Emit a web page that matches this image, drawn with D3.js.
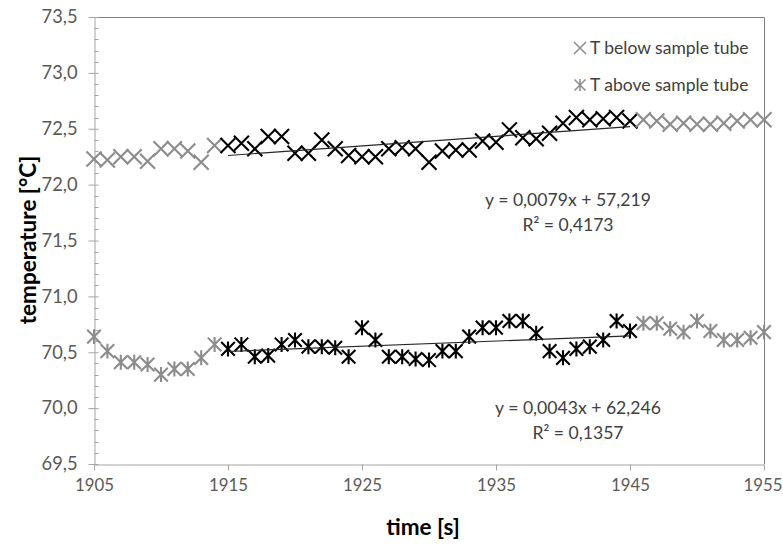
<!DOCTYPE html>
<html>
<head>
<meta charset="utf-8">
<script src="https://cdn.jsdelivr.net/npm/d3@7"></script>
<style>
  html, body { margin: 0; padding: 0; background: #fff; }
  svg { display: block; }
  text { font-family: Lato, "Open Sans", sans-serif; }
</style>
</head>
<body>
<svg id="chart" width="783" height="547"></svg>
<script>
// Time stamps, one reading per second
const times = d3.range(1905, 1956);

// Temperature below the sample tube [°C]
const tBelow = [
  72.23, 72.22, 72.25, 72.25, 72.21, 72.32, 72.32, 72.30, 72.20, 72.35,
  72.35, 72.37, 72.32, 72.43, 72.43, 72.28, 72.28, 72.40, 72.32, 72.26,
  72.25, 72.25, 72.32, 72.33, 72.32, 72.20, 72.30, 72.31, 72.31, 72.39,
  72.38, 72.49, 72.42, 72.41, 72.46, 72.55, 72.60, 72.58, 72.59, 72.60,
  72.57, 72.58, 72.57, 72.54, 72.55, 72.54, 72.54, 72.55, 72.57, 72.58,
  72.58
];

// Temperature above the sample tube [°C]
const tAbove = [
  70.64, 70.51, 70.41, 70.41, 70.39, 70.30, 70.35, 70.35, 70.45, 70.57,
  70.53, 70.57, 70.46, 70.47, 70.57, 70.61, 70.55, 70.55, 70.54, 70.46,
  70.72, 70.61, 70.46, 70.46, 70.44, 70.43, 70.51, 70.51, 70.64, 70.72,
  70.72, 70.78, 70.78, 70.67, 70.51, 70.45, 70.53, 70.55, 70.61, 70.78,
  70.69, 70.76, 70.76, 70.71, 70.68, 70.78, 70.69, 70.61, 70.61, 70.63,
  70.68
];

// Window used for the linear fits (highlighted in black)
const fitWindow = [1915, 1945];

// Axis ticks
const xTicks = [1905, 1915, 1925, 1935, 1945, 1955];
const yTicks = [69.5, 70.0, 70.5, 71.0, 71.5, 72.0, 72.5, 73.0, 73.5];
const yMinorTicks = d3.range(695, 736).map(v => v / 10);

// Legend and trend-line labels
const seriesNames = ["T below sample tube", "T above sample tube"];
const fitLabels = [
  ["y = 0,0079x + 57,219", "R\u00B2 = 0,4173"],
  ["y = 0,0043x + 62,246", "R\u00B2 = 0,1357"]
];

const svg = d3.select("#chart");
const plot = { left: 94, right: 764, top: 17, bottom: 464 };

const x = d3.scaleLinear().domain([1905, 1955]).range([plot.left, plot.right]);
const y = d3.scaleLinear().domain([69.5, 73.5]).range([plot.bottom, plot.top]);

const comma = v => d3.format(".1f")(v).replace(".", ",");
const axisGrey = "#a6a6a6";
const labelGrey = "#595959";

// Plot-area frame (top and right edges)
svg.append("path")
  .attr("d", `M${plot.left},${plot.top + 0.5}H${plot.right + 0.5}V${plot.bottom}`)
  .attr("fill", "none").attr("stroke", "#7f7f7f").attr("stroke-width", 1);

// Y axis with inner minor ticks
const yAxis = svg.append("g").attr("transform", `translate(${plot.left + 0.5},0)`);
yAxis.append("g")
  .call(d3.axisLeft(y).tickValues(yTicks).tickSize(6).tickSizeOuter(0).tickFormat(comma).tickPadding(11))
  .call(g => g.select(".domain").attr("stroke", axisGrey))
  .call(g => g.selectAll(".tick line").attr("stroke", axisGrey).attr("x2", -6).attr("x1", 4))
  .call(g => g.selectAll(".tick text").attr("fill", labelGrey).style("font-size", "18.3px").style("font-family", "Lato"));
yAxis.selectAll(".minor").data(yMinorTicks.filter(v => Math.round(v * 10) % 5 !== 0))
  .join("line").attr("class", "minor")
  .attr("x1", 0).attr("x2", 4)
  .attr("y1", d => Math.round(y(d)) + 0.5).attr("y2", d => Math.round(y(d)) + 0.5)
  .attr("stroke", axisGrey);

// X axis
svg.append("g").attr("transform", `translate(0,${plot.bottom + 0.5})`)
  .call(d3.axisBottom(x).tickValues(xTicks).tickSize(6).tickSizeOuter(0).tickFormat(d3.format("d")).tickPadding(9))
  .call(g => g.select(".domain").attr("stroke", axisGrey))
  .call(g => g.selectAll(".tick line").attr("stroke", axisGrey))
  .call(g => g.selectAll(".tick text").attr("fill", labelGrey).style("font-size", "16.8px").style("font-family", "Lato"))
  .call(g => g.selectAll(".tick text").filter(d => d === 1955).attr("text-anchor", "end").attr("x", 782 - plot.right));

// Axis titles
svg.append("text")
  .attr("transform", `translate(36,240) rotate(-90)`)
  .attr("text-anchor", "middle")
  .style("font-size", "22.5px").style("font-weight", "bold").attr("fill", "#000")
  .text("temperature [\u00B0C]");
svg.append("text")
  .attr("x", 423).attr("y", 535)
  .attr("text-anchor", "middle")
  .style("font-size", "22.5px").style("font-weight", "bold").attr("fill", "#000")
  .text("time [s]");

// Marker shapes
const crossPath = r => `M${-r},${-r}L${r},${r}M${-r},${r}L${r},${-r}`;
const starPath = r => `${crossPath(r)}M0,${-r * 1.1}L0,${r * 1.1}`;
const inFit = t => t >= fitWindow[0] && t <= fitWindow[1];

// Least-squares line through the points inside the fit window
function fitLine(vals) {
  const pts = times.map((t, i) => [t, vals[i]]).filter(p => inFit(p[0]));
  const mx = d3.mean(pts, p => p[0]), my = d3.mean(pts, p => p[1]);
  const sxy = d3.sum(pts, p => (p[0] - mx) * (p[1] - my));
  const sxx = d3.sum(pts, p => (p[0] - mx) ** 2);
  const b = sxy / sxx, a = my - b * mx;
  return fitWindow.map(t => [t, a + b * t]);
}

const series = [
  { vals: tBelow, shape: crossPath(7.5) },
  { vals: tAbove, shape: starPath(6.8) }
];

const line = d3.line().x(d => x(d[0])).y(d => y(d[1]));

series.forEach(s => {
  const g = svg.append("g");
  g.selectAll("path.m").data(times.map((t, i) => [t, s.vals[i]]))
    .join("path").attr("class", "m")
    .attr("transform", d => `translate(${x(d[0])},${y(d[1])})`)
    .attr("d", s.shape)
    .attr("fill", "none")
    .attr("stroke", d => inFit(d[0]) ? "#000" : "#8c8c8c")
    .attr("stroke-width", 2.1);
  g.append("path").datum(fitLine(s.vals))
    .attr("d", line).attr("fill", "none")
    .attr("stroke", "#262626").attr("stroke-width", 1.2);
});

// Trend-line equations
const fitLabelPos = [[568, 206], [578, 414]];
fitLabels.forEach((lines, k) => {
  const t = svg.append("text").attr("text-anchor", "middle").attr("fill", "#404040")
    .style("font-size", "17.6px");
  lines.forEach((txt, j) => {
    t.append("tspan").attr("x", fitLabelPos[k][0]).attr("y", fitLabelPos[k][1] + j * 25).text(txt);
  });
});

// Legend
const legend = svg.append("g");
seriesNames.forEach((name, k) => {
  const ly = 48 + k * 37;
  legend.append("path")
    .attr("transform", `translate(580,${ly})`)
    .attr("d", k === 0 ? crossPath(6) : starPath(5.5))
    .attr("fill", "none").attr("stroke", "#8c8c8c").attr("stroke-width", 1.5);
  legend.append("text").attr("x", 590).attr("y", ly + 6)
    .attr("fill", "#404040").style("font-size", "17.5px").text(name);
});
</script>
</body>
</html>
